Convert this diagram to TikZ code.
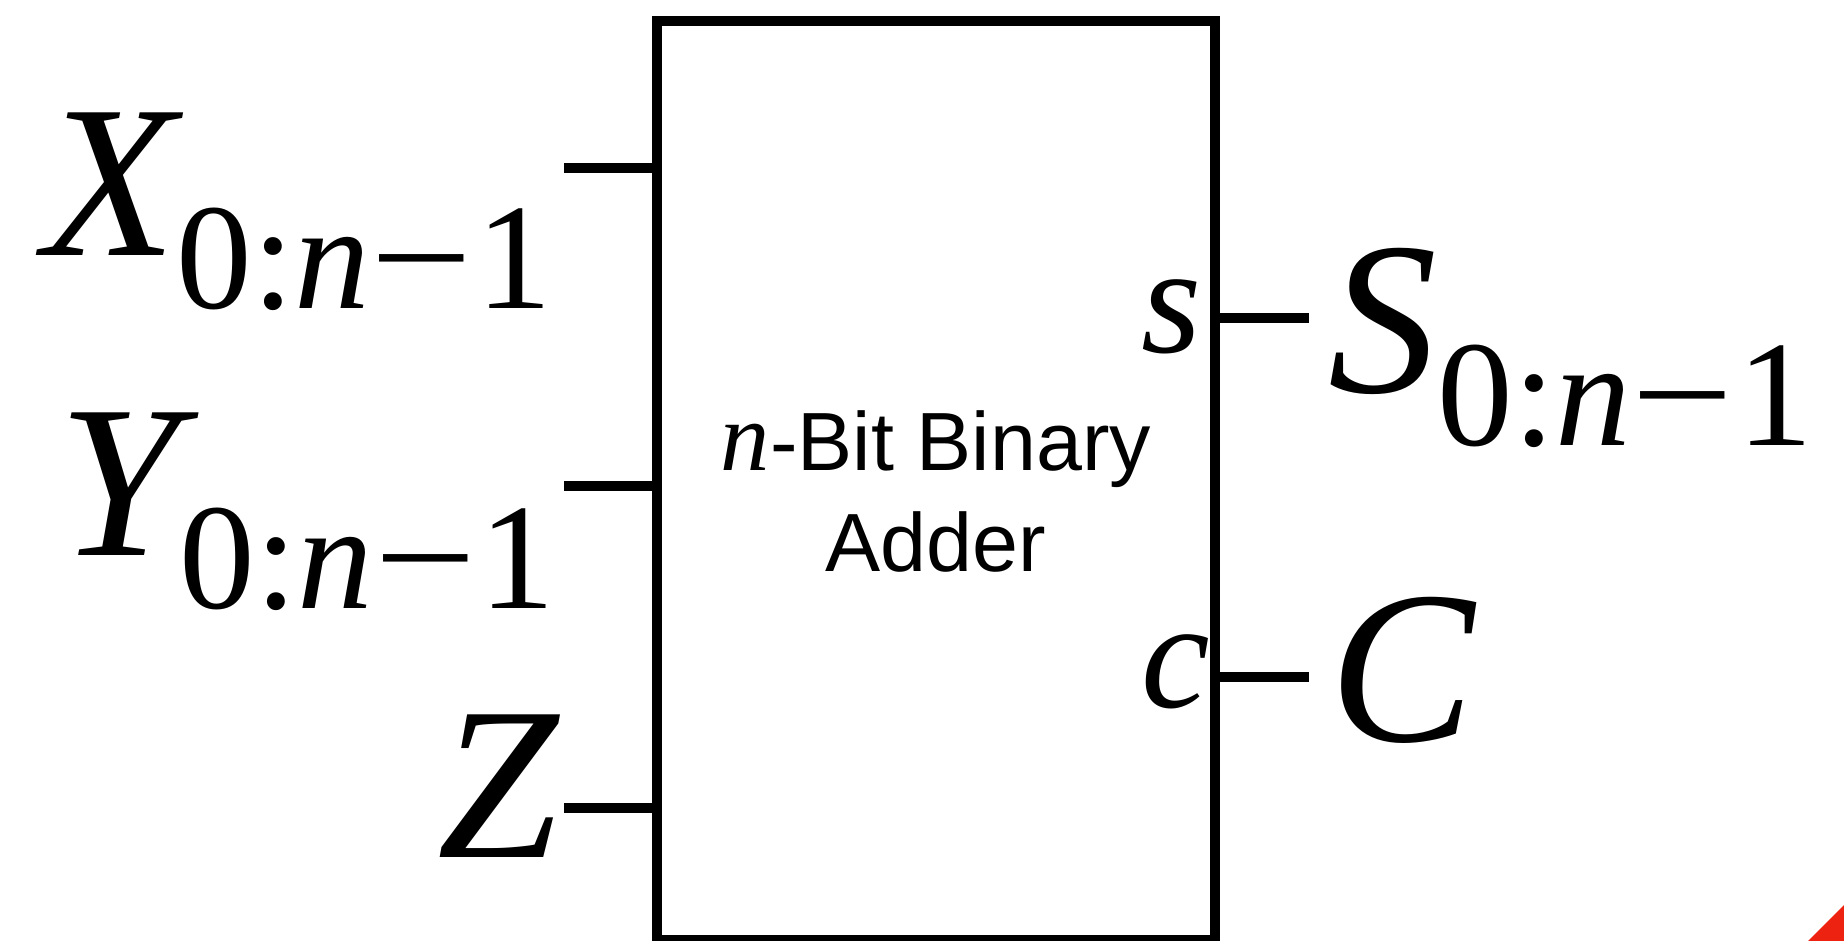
\documentclass[tikz,border=0pt]{standalone}
\usepackage{fontspec}
\setmainfont{Liberation Serif}
\newfontfamily\addersans{Liberation Sans}
\usepackage{tikz}
\usepackage{xcolor}
\definecolor{cornerred}{RGB}{238,34,16}
\newcommand{\buslabel}[1]{{\fontsize{62}{62}\selectfont\itshape #1}\raisebox{-0.53cm}{\fontsize{43}{43}\selectfont 0:\textit{n}\kern0.01cm\scalebox{1.2}[1]{−}\kern0.03cm 1}}

\begin{document}
\begin{tikzpicture}[wire/.style={line width=3pt}, lbl/.style={inner sep=0pt, anchor=base west}]
				\useasboundingbox (0,0) rectangle (18.44,9.41);
				\node[draw, line width=3pt, minimum width=5.58cm, minimum height=9.19cm, inner sep=0pt, outer sep=0pt] (adder) at (9.36,4.605) {};
				\node[inner sep=0pt, anchor=base, align=center, font=\addersans\fontsize{23.5}{29}\selectfont] (addername) at (9.36,3.69) {{\rmfamily\itshape\fontsize{28}{28}\selectfont n}-Bit Binary\\Adder};
				
				\coordinate (xend) at (5.64,7.73);
				\coordinate (yend) at (5.64,4.55);
				\coordinate (zend) at (5.64,1.33);
				\coordinate (send) at (13.09,6.23);
				\coordinate (cend) at (13.09,2.64);
				\draw[wire] (xend) -- (xend -| adder.west);
				\draw[wire] (yend) -- (yend -| adder.west);
				\draw[wire] (zend) -- (zend -| adder.west);
				\draw[wire] (send -| adder.east) -- (send);
				\draw[wire] (cend -| adder.east) -- (cend);
				
				\node[lbl] (xlbl) at (0.43,6.85) {\buslabel{X}};
				\node[lbl] (ylbl) at (0.58,3.85) {\buslabel{Y}};
				\node[lbl] (zlbl) at (4.37,0.83) {\fontsize{62}{62}\selectfont\itshape Z};
				\node[lbl] (slbl) at (13.28,5.48) {\buslabel{S}};
				\node[lbl] (clbl) at (13.29,1.99) {\fontsize{62}{62}\selectfont\itshape C};
				\node[lbl] (sport) at (11.41,5.88) {\fontsize{44}{44}\selectfont\itshape s};
				\node[lbl] (cport) at (11.41,2.33) {\fontsize{44}{44}\selectfont\itshape c};
				
				\fill[cornerred] (18.08,0) -- (18.44,0) -- (18.44,0.36) -- cycle;
			\end{tikzpicture}
\end{document}
